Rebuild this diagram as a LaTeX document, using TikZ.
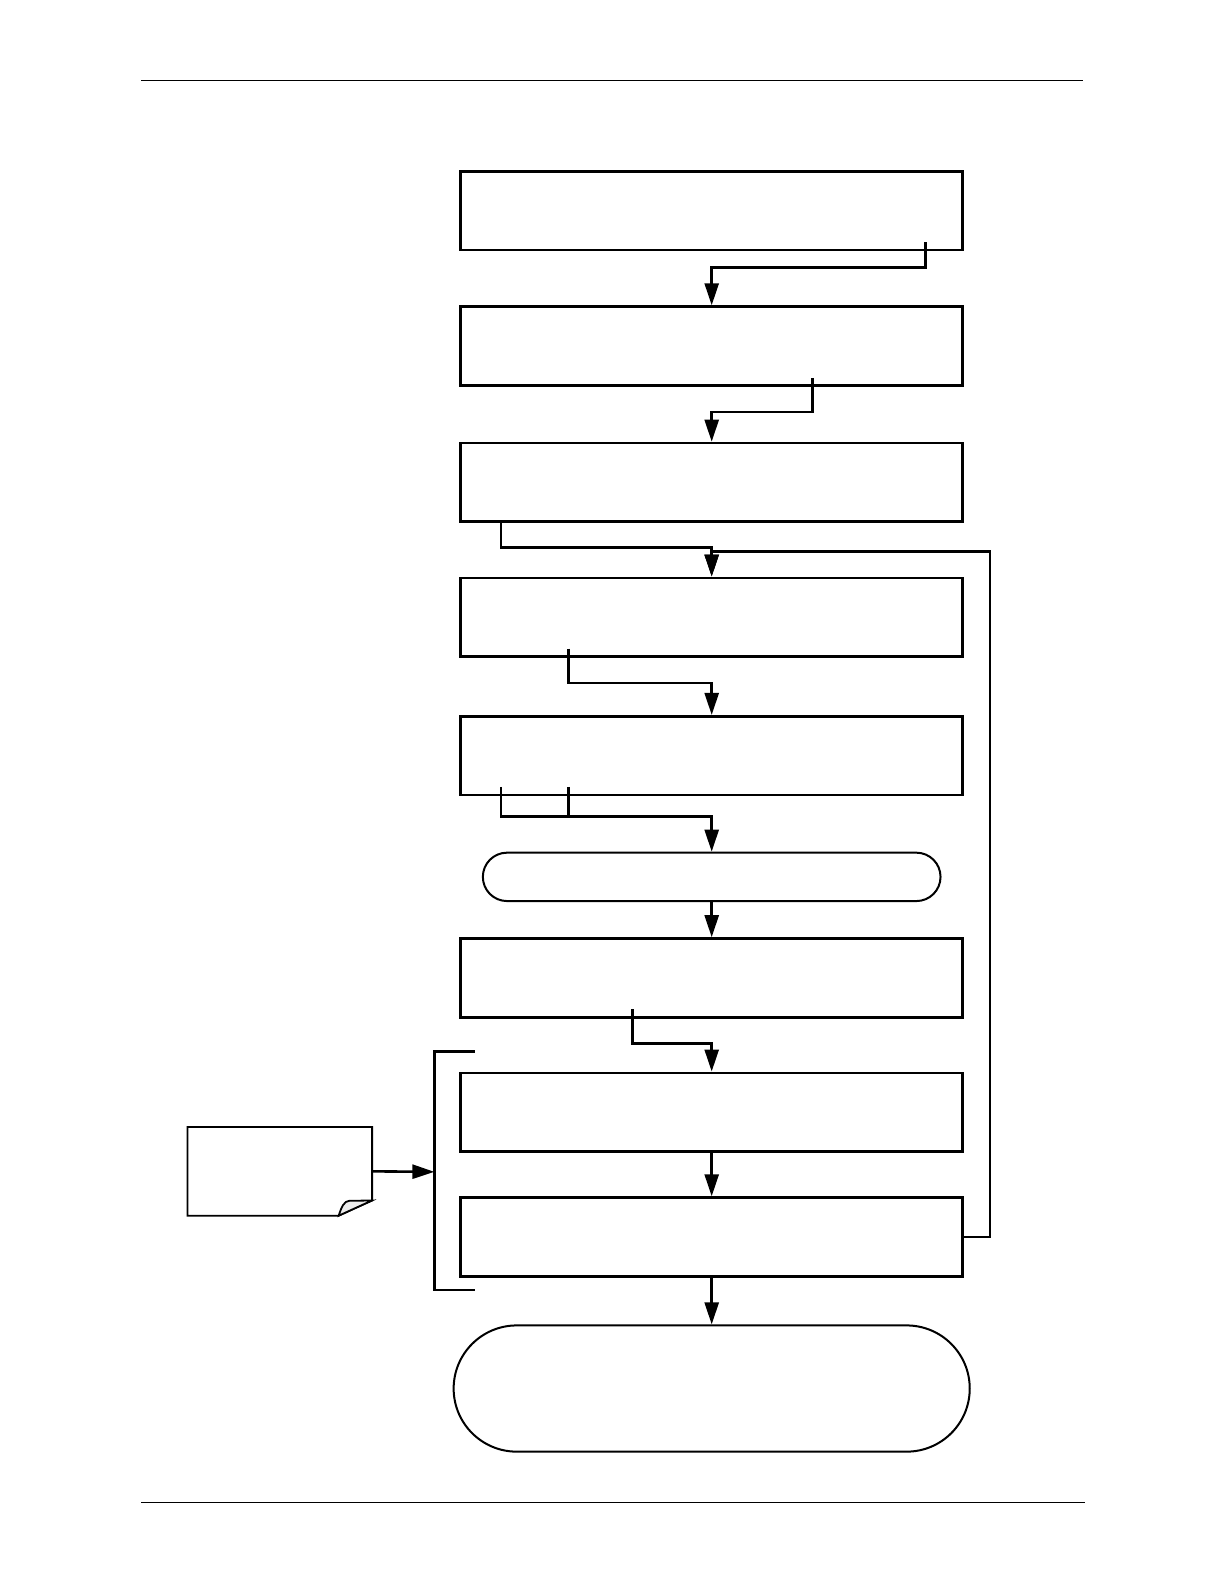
\documentclass[tikz,border=0pt]{standalone}
\usetikzlibrary{arrows.meta,shapes.misc,calc}
\tikzset{
    stepbox/.style={
        draw, line width=1.3pt, rectangle,
        minimum width=251pt, minimum height=39.4pt, inner sep=0pt
    },
    endcap/.style={
        draw, line width=1pt, rounded rectangle,
        rounded rectangle arc length=180, inner sep=0pt
    },
    flow/.style={
        line width=1.3pt, -{Triangle[length=11pt,width=7pt]}
    },
    feed/.style={
        line width=1.3pt
    }
}
\begin{document}
\begin{tikzpicture}[x=0.505pt, y=-0.505pt]
                \useasboundingbox (0,0) rectangle (1212,1568);

                % page rules
                \draw[line width=0.6pt] (140,80) -- (1072,80);
                \draw[line width=0.6pt] (140,1487) -- (1074,1487);

                % main column
                \node[stepbox] (B1) at (704.5, 208.5) {};
                \node[stepbox] (B2) at (704.5, 342.5) {};
                \node[stepbox] (B3) at (704.5, 477.5) {};
                \node[stepbox] (B4) at (704.5, 611) {};
                \node[stepbox] (B5) at (704.5, 748) {};
                \node[endcap, minimum width=228.8pt, minimum height=24.2pt] (T1) at (704.5, 868) {};
                \node[stepbox] (B6) at (704.5, 968) {};
                \node[stepbox] (B7) at (704.5, 1101) {};
                \node[stepbox] (B8) at (704.5, 1224.5) {};
                \node[endcap, minimum width=258pt, minimum height=63.1pt] (T2) at (704.5, 1374.5) {};

                % note with folded corner
                \node[minimum width=91.9pt, minimum height=43.9pt, inner sep=0pt] (N) at (277, 1159.5) {};
                \draw[line width=0.9pt]
                (N.north west) -- (N.north east) -- ([yshift=7.6pt]N.south east)
                -- ([xshift=-16.7pt]N.south east) -- (N.south west) -- cycle;
                \filldraw[line width=0.9pt, fill=gray!15]
                ([xshift=-16.7pt]N.south east) .. controls ([xshift=-15.5pt,yshift=4pt]N.south east)
                and ([xshift=-14pt,yshift=7.4pt]N.south east) .. ([xshift=-11.5pt,yshift=7.4pt]N.south east)
                -- ([yshift=7.6pt]N.south east) -- cycle;

                % bracket round the last two steps
                \coordinate (Bk) at (430, 1160);
                \draw[line width=1.4pt] (470,1041) -- (430,1041) -- (430,1277) -- (470,1277);
                \draw[flow] (N.east) -- (Bk);

                % connectors
                \coordinate (P1) at (916, 240);
                \coordinate (P2) at (804, 374);
                \coordinate (P3) at (496, 517);
                \coordinate (P4) at (563, 642);
                \coordinate (P5) at (496, 779);
                \coordinate (P6) at (563, 779);
                \coordinate (P7) at (626, 999);
                \coordinate (L1) at (980, 546);

                \draw[flow] (P1) -- ++(0,25) -| (B2.north);
                \draw[flow] (P2) -- ++(0,34) -| (B3.north);
                \draw[flow] (P3) -- ++(0,25) -| (B4.north);
                \draw[flow] (B8.east) -| (L1) -| (B4.north);
                \draw[flow] (P4) -- ++(0,34) -| (B5.north);
                \draw[flow] (P5) -- ++(0,29) -| (T1.north);
                \draw[feed] (P6) -- ++(0,29);
                \draw[flow] (T1.south) -- (B6.north);
                \draw[flow] (P7) -- ++(0,34) -| (B7.north);
                \draw[flow] (B7.south) -- (B8.north);
                \draw[flow] (B8.south) -- (T2.north);
                \end{tikzpicture}
\end{document}
